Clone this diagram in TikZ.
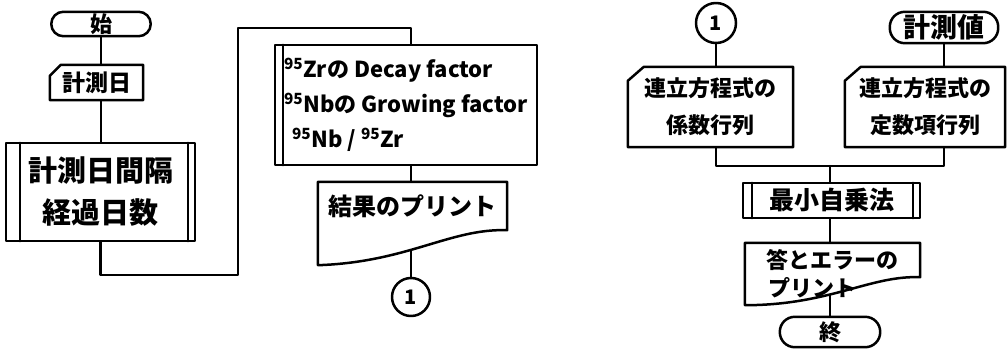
\documentclass[tikz,border=0pt]{standalone}
\usepackage{fontspec}
\setmainfont{Noto Sans CJK JP}
\usetikzlibrary{calc}
\pgfdeclarelayer{conn}
\pgfdeclarelayer{shp}
\pgfsetlayers{conn,shp,main}
\begin{document}
\begin{tikzpicture}[x=1pt,y=-1pt,
  ln/.style={line width=2.5pt,line join=round,line cap=round},
  fshape/.style={ln,fill=white},
  lab/.style={inner sep=0pt,align=center},
  conncirc/.style={circle,ln,draw,fill=white,minimum size=38pt,inner sep=0pt,font=\bfseries\fontsize{20}{24}\selectfont},
]
\useasboundingbox (0,0) rectangle (1007,356);

% ---------- left flow ----------
\node[lab,minimum width=99pt,minimum height=24pt,font=\bfseries\fontsize{22}{24}\selectfont] (start) at (101,24) {始};
\node[lab,minimum width=93pt,minimum height=35pt,font=\bfseries\fontsize{23}{28}\selectfont] (day) at (96.5,82.5) {計測日};
\node[lab,minimum width=189pt,minimum height=98pt,font=\bfseries\fontsize{29}{42}\selectfont] (intv) at (100.5,192) {計測日間隔\\経過日数};
\node[lab,minimum width=262pt,minimum height=120pt,align=left,font=\bfseries\fontsize{22}{35}\selectfont] (fac) at (406,105)
  {\textsuperscript{95}Zrの Decay factor\\\textsuperscript{95}Nbの Growing factor\\\hspace*{8pt}\textsuperscript{95}Nb / \textsuperscript{95}Zr};
\node[lab,minimum width=189pt,minimum height=48pt,font=\bfseries\fontsize{24}{28}\selectfont] (res) at (412.5,206) {結果のプリント};
\node[conncirc] (c1) at (411,297) {1};

% ---------- right flow ----------
\node[conncirc,minimum size=40pt] (c2) at (716,23) {1};
\node[lab,minimum width=108pt,minimum height=31pt,font=\bfseries\fontsize{27}{32}\selectfont] (meas) at (944,27.5) {計測値};
\node[lab,minimum width=165pt,minimum height=80pt,font=\bfseries\fontsize{22}{37}\selectfont] (coef) at (710.5,107) {連立方程式の\\係数行列};
\node[lab,minimum width=160pt,minimum height=80pt,font=\bfseries\fontsize{22}{37}\selectfont] (const) at (925,107) {連立方程式の\\定数項行列};
\node[lab,minimum width=177pt,minimum height=35pt,font=\bfseries\fontsize{25}{30}\selectfont] (lsq) at (831.5,200.5) {最小自乗法};
\node[lab,minimum width=175pt,minimum height=62pt,align=left,font=\bfseries\fontsize{22}{28}\selectfont] (ans) at (832.5,274) {答とエラーの\\\hspace*{2pt}プリント\hspace*{40pt}};
\node[lab,minimum width=100pt,minimum height=30pt,font=\bfseries\fontsize{22}{26}\selectfont] (end) at (830,332) {終};

\coordinate (b1) at (238,275);
\coordinate (b2) at (238,28);
\coordinate (j) at (830,166);

% ---------- shapes ----------
\begin{pgfonlayer}{shp}
  % terminals
  \draw[fshape,rounded corners=12pt] (start.north west) rectangle (start.south east);
  \draw[fshape,rounded corners=15pt] (meas.north west) rectangle (meas.south east);
  \draw[fshape,rounded corners=15pt] (end.north west) rectangle (end.south east);
  % cards
  \draw[fshape] ($(day.north west)+(0,11)$) -- ($(day.north west)+(11,0)$) -- (day.north east) -- (day.south east) -- (day.south west) -- cycle;
  \draw[fshape] ($(coef.north west)+(0,14)$) -- ($(coef.north west)+(16,0)$) -- (coef.north east) -- (coef.south east) -- (coef.south west) -- cycle;
  \draw[fshape] ($(const.north west)+(0,14)$) -- ($(const.north west)+(16,0)$) -- (const.north east) -- (const.south east) -- (const.south west) -- cycle;
  % predefined processes
  \draw[fshape] (intv.north west) rectangle (intv.south east);
  \draw[ln] ($(intv.north west)+(14,0)$) -- ($(intv.south west)+(14,0)$);
  \draw[ln] ($(intv.north east)+(-7,0)$) -- ($(intv.south east)+(-7,0)$);
  \draw[fshape] (fac.north west) rectangle (fac.south east);
  \draw[ln] ($(fac.north west)+(8,0)$) -- ($(fac.south west)+(8,0)$);
  \draw[fshape] (lsq.north west) rectangle (lsq.south east);
  \draw[ln] ($(lsq.north west)+(9,0)$) -- ($(lsq.south west)+(9,0)$);
  \draw[ln] ($(lsq.north east)+(-7,0)$) -- ($(lsq.south east)+(-7,0)$);
  % documents
  \draw[fshape] ($(res.south west)+(0,35)$) -- (res.north west) -- (res.north east) -- (res.south east)
     .. controls ($(res.south east)+(-57,-2)$) and ($(res.south west)+(90,32)$) .. ($(res.south west)+(0,35)$);
  \draw[fshape] (ans.south west) -- (ans.north west) -- (ans.north east) -- ($(ans.south east)+(0,-28)$)
     .. controls ($(ans.south east)+(-50,-30)$) and ($(ans.south west)+(85,0)$) .. (ans.south west);
\end{pgfonlayer}

% ---------- connectors ----------
\begin{pgfonlayer}{conn}
  \draw[ln] (start.center) -- (start.center |- intv.center);
  \draw[ln] (intv.center) |- (b1) -- (b2) -| (c1.center |- fac.center);
  \draw[ln] (c1.center |- fac.center) -- (c1.center);
  \draw[ln] (c2.center) -- (c2.center |- coef.center);
  \draw[ln] (meas.center) -- (meas.center |- const.center);
  \draw[ln] (c2.center |- coef.center) |- (j);
  \draw[ln] (meas.center |- const.center) |- (j);
  \draw[ln] (j) -- (end.center);
\end{pgfonlayer}
\end{tikzpicture}
\end{document}
